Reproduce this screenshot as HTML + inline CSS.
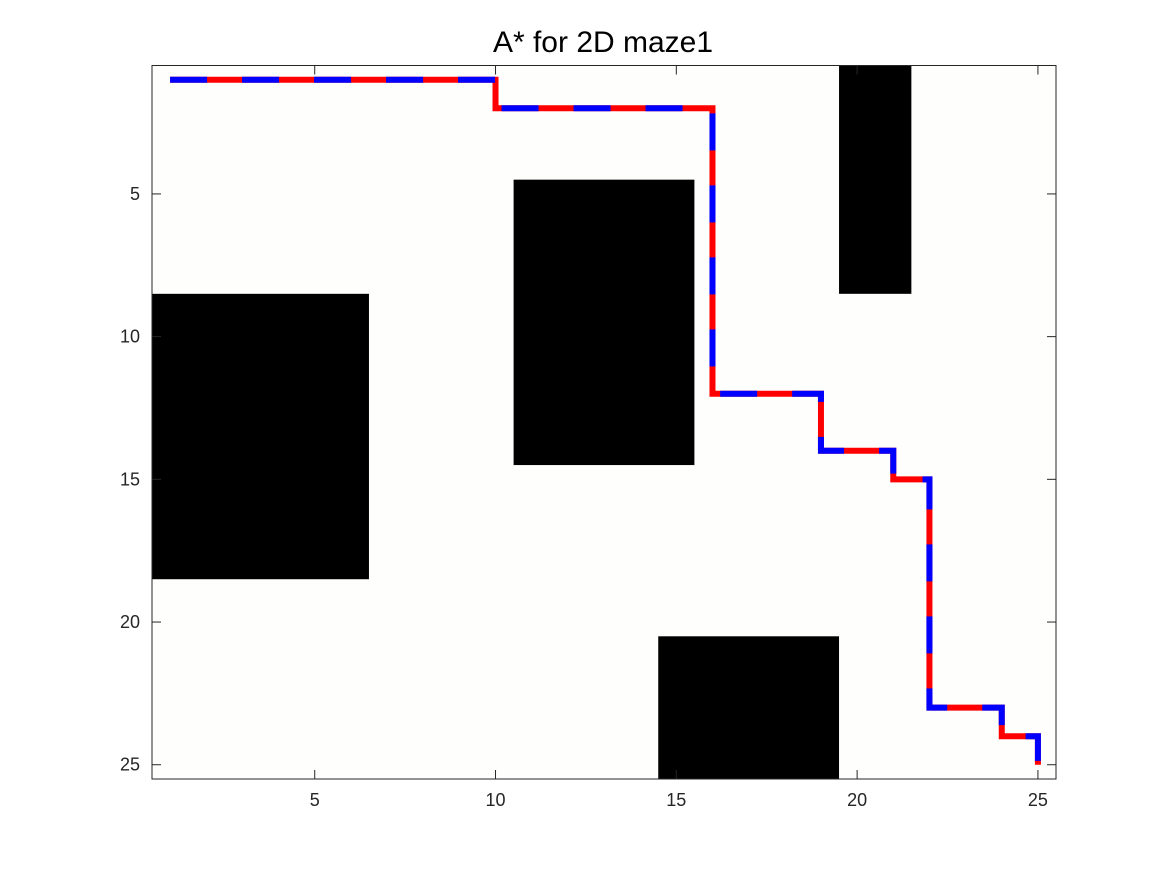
<!DOCTYPE html>
<html><head><meta charset="utf-8"><style>
body{margin:0;background:#fff;}
svg{display:block;font-family:"Liberation Sans",sans-serif;}
</style></head><body>
<svg id="c" width="1167" height="875">
<rect x="0" y="0" width="1167" height="875" fill="#fff"/>
<text x="603" y="52" text-anchor="middle" font-size="30" fill="#000">A* for 2D maze1</text>
<g id="plot"></g>
</svg>
<script>
const obstacles = [[0.5,8.5,6.5,18.5],[10.5,4.5,15.5,14.5],[19.5,0.5,21.5,8.5],[14.5,20.5,19.5,25.5]];
const pathX = [1,10,10,16,16,19,19,21,21,22,22,24,24,25,25];
const pathY = [1,1,2,2,12,12,14,14,15,15,23,23,24,24,25];
const xTicks = [5,10,15,20,25];
const yTicks = [5,10,15,20,25];
const NS='http://www.w3.org/2000/svg';
const L=152,R=1056,T=65.5,B=779;
const sx=v=>L+(v-0.5)*(R-L)/25;
const sy=v=>T+(v-0.5)*(B-T)/25;
const g=document.getElementById('plot');
function mk(t,a){const e=document.createElementNS(NS,t);for(const k in a)e.setAttribute(k,a[k]);g.appendChild(e);return e;}
let bg=mk('rect',{x:L,y:T,width:R-L,height:B-T,fill:'#fefefd'});


obstacles.forEach(o=>{
 const r=mk('rect',{x:sx(o[0]),y:sy(o[1]),width:sx(o[2])-sx(o[0]),height:sy(o[3])-sy(o[1]),fill:'#000'});
 
 
});
const pts=pathX.map((x,i)=>sx(x)+','+sy(pathY[i])).join(' ');
const pr=mk('polyline',{points:pts,fill:'none',stroke:'#ff0000','stroke-width':6});


const pb=mk('polyline',{points:pts,fill:'none',stroke:'#0000ff','stroke-width':6,'stroke-dasharray':'37 35'});


const box=mk('rect',{x:L,y:T,width:R-L,height:B-T,fill:'none',stroke:'#262626','stroke-width':1});


xTicks.forEach(v=>{
 const x=sx(v);
 mk('line',{x1:x,x2:x,y1:B,y2:B-9,stroke:'#262626'});
 mk('line',{x1:x,x2:x,y1:T,y2:T+9,stroke:'#262626'});
 const t=mk('text',{x:x,y:B+27,'text-anchor':'middle','font-size':18,fill:'#262626'});
 t.textContent=v;
 
 
});
yTicks.forEach(v=>{
 const y=sy(v);
 mk('line',{x1:L,x2:L+9,y1:y,y2:y,stroke:'#262626'});
 mk('line',{x1:R,x2:R-9,y1:y,y2:y,stroke:'#262626'});
 const t=mk('text',{x:L-12,y:y+6,'text-anchor':'end','font-size':18,fill:'#262626'});
 t.textContent=v;
 
 
});
</script>
</body></html>
